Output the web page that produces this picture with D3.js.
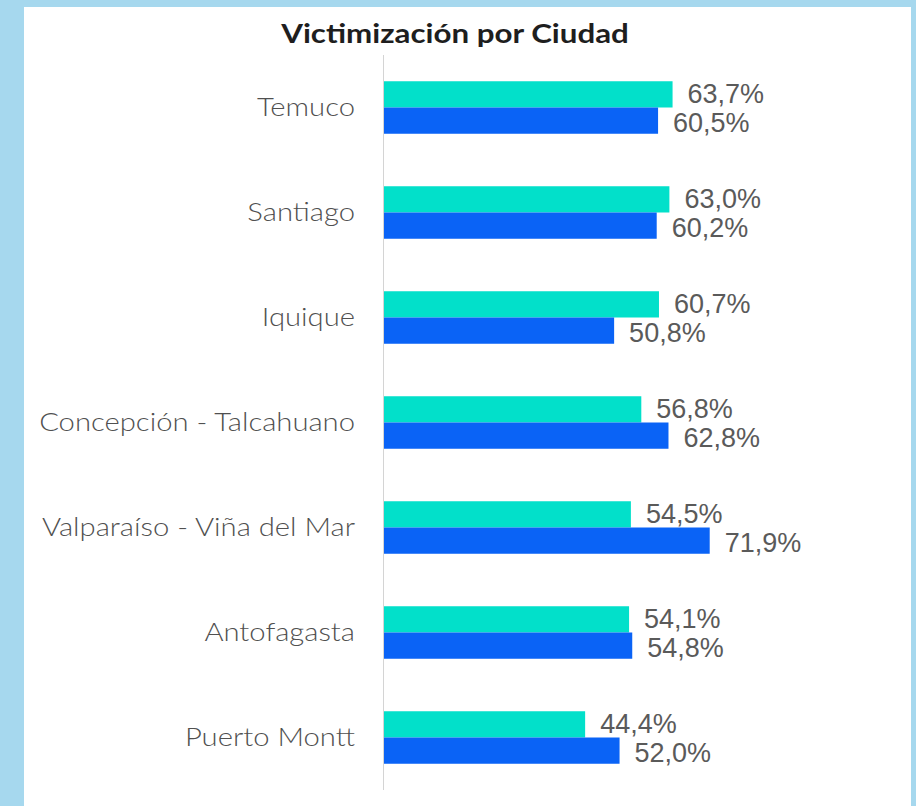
<!DOCTYPE html>
<html>
<head>
<meta charset="utf-8">
<script src="https://d3js.org/d3.v7.min.js"></script>
<style>
  html, body { margin: 0; padding: 0; background: #a6d8ee; }
</style>
</head>
<body>
<div id="chart"></div>
<script>
// Data
const cities = ["Temuco", "Santiago", "Iquique", "Concepción - Talcahuano",
  "Valparaíso - Viña del Mar", "Antofagasta", "Puerto Montt"]
const seriesA = [63.7, 63.0, 60.7, 56.8, 54.5, 54.1, 44.4]
const seriesB = [60.5, 60.2, 50.8, 62.8, 71.9, 54.8, 52.0]
const seriesNames = ["a", "b"]
const colors = ["#02e0ca", "#0a63f6"]

const rows = cities.map((c, i) => ({ city: c, values: [seriesA[i], seriesB[i]] }))

const width = 916, height = 806

const svg = d3.select("#chart")
  .append("svg")
  .attr("width", width)
  .attr("height", height)

// light blue frame + white panel
svg.append("rect").attr("width", width).attr("height", height).attr("fill", "#a6d8ee")
svg.append("rect")
  .attr("x", 24).attr("y", 7)
  .attr("width", 887).attr("height", height - 7)
  .attr("fill", "#ffffff")

// the source picture is a little stretched sideways, so text gets a scaleX
svg.append("text")
  .attr("transform", "translate(455,43) scale(1.16,1)")
  .attr("text-anchor", "middle")
  .attr("font-family", "Lato, sans-serif")
  .attr("font-weight", "bold")
  .attr("font-size", 27)
  .attr("fill", "#1e1e1e")
  .text("Victimización por Ciudad")

// Scales
const yScale = d3.scaleBand()
  .domain(cities)
  .range([55, 790])
  .paddingInner(0.5)
  .paddingOuter(0.25)

const ySub = d3.scaleBand()
  .domain(seriesNames)
  .range([0, yScale.bandwidth()])

const xScale = d3.scaleLinear()
  .domain([0, 100])
  .range([384, 837])

// axis line
svg.append("line")
  .attr("x1", 383.5).attr("x2", 383.5)
  .attr("y1", 55).attr("y2", 790)
  .attr("stroke", "#d4d4d4")

// category labels
svg.append("g")
  .selectAll("text")
  .data(cities)
  .join("text")
  .attr("transform", d => `translate(355,${yScale(d) + yScale.bandwidth() / 2}) scale(1.17,1)`)
  .attr("dy", "0.35em")
  .attr("text-anchor", "end")
  .attr("font-family", "Lato, sans-serif")
  .attr("font-weight", 300)
  .attr("font-size", 25)
  .attr("fill", "#505050")
  .text(d => d)

// Bars
const groups = svg.append("g")
  .selectAll("g")
  .data(rows)
  .join("g")
  .attr("transform", d => `translate(0,${yScale(d.city)})`)

groups.selectAll("rect")
  .data(d => d.values.map((v, i) => ({ key: seriesNames[i], v, i })))
  .join("rect")
  .attr("x", xScale(0))
  .attr("y", d => ySub(d.key))
  .attr("width", d => xScale(d.v) - xScale(0))
  .attr("height", ySub.bandwidth())
  .attr("fill", d => colors[d.i])

const fmt = v => d3.format(".1f")(v).replace(".", ",") + "%"

groups.selectAll("text")
  .data(d => d.values.map((v, i) => ({ key: seriesNames[i], v, i })))
  .join("text")
  .attr("x", d => xScale(d.v) + 15)
  .attr("y", d => ySub(d.key) + ySub.bandwidth() / 2 + (d.i === 0 ? -1 : 2))
  .attr("dy", "0.35em")
  .attr("font-family", "'Liberation Sans', Arial, sans-serif")
  .attr("font-size", 27)
  .attr("fill", "#5a5a5a")
  .text(d => fmt(d.v))
</script>
</body>
</html>
